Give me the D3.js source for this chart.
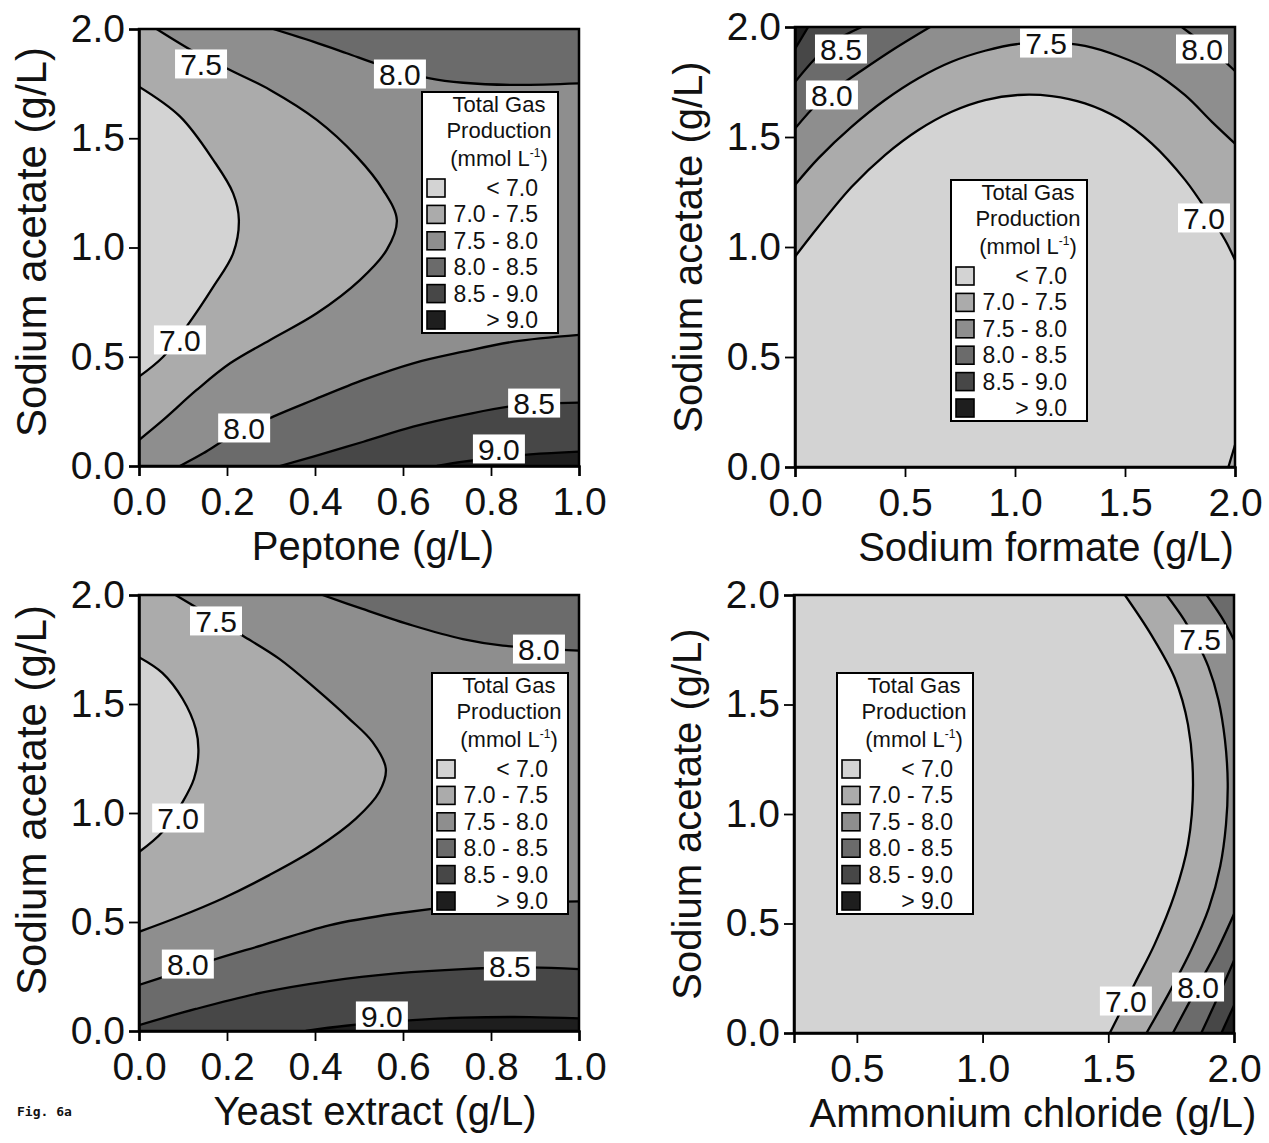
<!DOCTYPE html>
<html>
<head>
<meta charset="utf-8">
<script src="https://cdn.jsdelivr.net/npm/d3@7"></script>
<style>
  body { margin: 0; background: #fff; }
  svg text { font-family: "Liberation Sans", Arial, sans-serif; fill: #111; }
</style>
</head>
<body>
<svg id="fig" width="1269" height="1143"></svg>
<script>
// ---- data ----
const bandNames = ["< 7.0", "7.0 - 7.5", "7.5 - 8.0", "8.0 - 8.5", "8.5 - 9.0", "> 9.0"];
const levels = [7.0, 7.5, 8.0, 8.5, 9.0];
const yTicks = [0, 0.5, 1.0, 1.5, 2.0];
const xTicksPep = [0, 0.2, 0.4, 0.6, 0.8, 1.0];
const xTicksForm = [0, 0.5, 1.0, 1.5, 2.0];
const xTicksYeast = [0, 0.2, 0.4, 0.6, 0.8, 1.0];
const xTicksNH4 = [0.5, 1.0, 1.5, 2.0];

// contour lines, [x, sodium acetate]
// peptone
const pep70 = [[0,1.736],[0.093,1.60],[0.169,1.40],[0.214,1.248],[0.227,1.126],[0.214,0.973],[0.169,0.821],[0.108,0.638],[0.055,0.50],[0,0.409]];
const pep75 = [[0.04,2.0],[0.131,1.889],[0.207,1.812],[0.298,1.721],[0.404,1.584],[0.495,1.416],[0.555,1.263],[0.586,1.126],[0.563,0.989],[0.502,0.851],[0.404,0.699],[0.298,0.577],[0.207,0.47],[0.131,0.348],[0.055,0.211],[0,0.119]];
const pep80a = [[0.305,2.0],[0.396,1.942],[0.472,1.889],[0.548,1.835],[0.661,1.774],[0.737,1.754],[0.851,1.744],[1.0,1.751]];
const pep80b = [[0.093,0],[0.146,0.058],[0.207,0.134],[0.305,0.226],[0.396,0.302],[0.51,0.394],[0.623,0.47],[0.737,0.523],[0.851,0.569],[1.0,0.60]];
const pep85 = [[0.32,0],[0.396,0.043],[0.51,0.111],[0.623,0.18],[0.737,0.233],[0.851,0.275],[1.0,0.29]];
const pep90 = [[0.677,0],[0.737,0.02],[0.889,0.053],[1.0,0.066]];
// sodium formate
const form70a = [[0,0.956],[0.106,1.092],[0.258,1.274],[0.409,1.418],[0.561,1.532],[0.712,1.615],[0.864,1.668],[1.015,1.691],[1.167,1.686],[1.318,1.653],[1.47,1.585],[1.621,1.471],[1.773,1.305],[1.879,1.153],[1.955,1.032],[2.0,0.941]];
const form70b = [[1.97,0],[2.0,0.10]];
const form75 = [[0,1.282],[0.106,1.403],[0.258,1.547],[0.409,1.668],[0.561,1.767],[0.712,1.842],[0.864,1.892],[1.015,1.923],[1.167,1.93],[1.318,1.914],[1.47,1.868],[1.621,1.80],[1.773,1.69],[1.894,1.57],[2.0,1.47]];
const form80a = [[0,1.538],[0.1,1.65],[0.2,1.73],[0.3,1.80],[0.45,1.90],[0.614,2.0]];
const form80b = [[1.758,2.0],[1.9,1.89],[2.0,1.80]];
const form85 = [[0,1.75],[0.091,1.856],[0.174,1.932],[0.303,2.0]];
const form90 = [[0,1.90],[0.06,2.0]];
// yeast extract
const yea70 = [[0,1.715],[0.053,1.643],[0.099,1.524],[0.129,1.386],[0.135,1.279],[0.125,1.157],[0.099,1.05],[0.053,0.913],[0,0.821]];
const yea75 = [[0.083,2.0],[0.167,1.898],[0.235,1.814],[0.319,1.707],[0.402,1.569],[0.478,1.432],[0.531,1.325],[0.561,1.203],[0.546,1.096],[0.493,0.974],[0.402,0.837],[0.296,0.715],[0.19,0.608],[0.091,0.524],[0,0.455]];
const yea80a = [[0.417,2.0],[0.508,1.936],[0.622,1.86],[0.736,1.798],[0.827,1.768],[1.0,1.745]];
const yea80b = [[0,0.211],[0.068,0.256],[0.167,0.325],[0.281,0.394],[0.432,0.485],[0.584,0.539],[0.736,0.574],[0.888,0.589],[1.0,0.595]];
const yea85 = [[0,0.027],[0.129,0.101],[0.281,0.177],[0.432,0.229],[0.584,0.264],[0.736,0.284],[0.888,0.292],[1.0,0.284]];
const yea90 = [[0.379,0],[0.47,0.024],[0.622,0.05],[0.736,0.061],[0.888,0.064],[1.0,0.058]];
// ammonium chloride
const nh70 = [[1.566,2.0],[1.671,1.818],[1.764,1.621],[1.817,1.408],[1.837,1.135],[1.817,0.862],[1.764,0.634],[1.685,0.407],[1.605,0.225],[1.506,0]];
const nh75 = [[1.732,2.0],[1.80,1.89],[1.855,1.78],[1.898,1.673],[1.938,1.521],[1.964,1.338],[1.975,1.14],[1.968,0.95],[1.945,0.76],[1.90,0.57],[1.83,0.38],[1.745,0.19],[1.652,0]];
const nh80a = [[1.891,2.0],[1.95,1.90],[2.0,1.795]];
const nh80b = [[2.0,0.543],[1.93,0.37],[1.857,0.215],[1.757,0]];
const nh85 = [[2.0,0.331],[1.936,0.164],[1.87,0]];
const nh90 = [[2.0,0.126],[1.95,0]];

// which way round the plot edge the higher side lies
const pepContours = [
  { level: 7.0, pts: pep70, hi: "ccw" }, { level: 7.5, pts: pep75, hi: "ccw" },
  { level: 8.0, pts: pep80a, hi: "ccw" }, { level: 8.0, pts: pep80b, hi: "cw" },
  { level: 8.5, pts: pep85, hi: "cw" }, { level: 9.0, pts: pep90, hi: "cw" }
];
const formContours = [
  { level: 7.0, pts: form70a, hi: "ccw" }, { level: 7.0, pts: form70b, hi: "cw" },
  { level: 7.5, pts: form75, hi: "ccw" }, { level: 8.0, pts: form80a, hi: "ccw" },
  { level: 8.0, pts: form80b, hi: "ccw" }, { level: 8.5, pts: form85, hi: "ccw" },
  { level: 9.0, pts: form90, hi: "ccw" }
];
const yeaContours = [
  { level: 7.0, pts: yea70, hi: "ccw" }, { level: 7.5, pts: yea75, hi: "ccw" },
  { level: 8.0, pts: yea80a, hi: "ccw" }, { level: 8.0, pts: yea80b, hi: "cw" },
  { level: 8.5, pts: yea85, hi: "cw" }, { level: 9.0, pts: yea90, hi: "cw" }
];
const nhContours = [
  { level: 7.0, pts: nh70, hi: "ccw" }, { level: 7.5, pts: nh75, hi: "ccw" },
  { level: 8.0, pts: nh80a, hi: "ccw" }, { level: 8.0, pts: nh80b, hi: "ccw" },
  { level: 8.5, pts: nh85, hi: "ccw" }, { level: 9.0, pts: nh90, hi: "ccw" }
];

// contour labels
const pepLabels = [["7.5",0.141,1.84],["8.0",0.593,1.794],["7.0",0.093,0.577],["8.0",0.239,0.174],["8.5",0.898,0.288],["9.0",0.818,0.078]];
const formLabels = [["8.5",0.209,1.9],["7.5",1.141,1.927],["8.0",1.85,1.9],["8.0",0.168,1.691],["7.0",1.859,1.132]];
const yeaLabels = [["7.5",0.175,1.881],["8.0",0.909,1.752],["7.0",0.089,0.977],["8.0",0.111,0.307],["8.5",0.843,0.298],["9.0",0.552,0.069]];
const nhLabels = [["7.5",1.865,1.799],["7.0",1.57,0.146],["8.0",1.857,0.21]];

// ---- layout ----
const bandColors = ["#d3d3d3", "#ababab", "#8e8e8e", "#6b6b6b", "#474747", "#1e1e1e"];

const panels = [
  { left: 139, top: 29, w: 440, h: 437, xDomain: [0, 1], xTicks: xTicksPep, xTitle: "Peptone (g/L)",
    xTitleX: 234, yTitleY: 213, yTitleSize: 42, contours: pepContours, labels: pepLabels, legend: [283, 63] },
  { left: 795, top: 27, w: 440, h: 440, xDomain: [0, 2], xTicks: xTicksForm, xTitle: "Sodium formate (g/L)",
    xTitleX: 251, yTitleY: 220, yTitleSize: 40, contours: formContours, labels: formLabels, legend: [156, 153] },
  { left: 139, top: 595, w: 440, h: 436, xDomain: [0, 1], xTicks: xTicksYeast, xTitle: "Yeast extract (g/L)",
    xTitleX: 236, yTitleY: 205, yTitleSize: 42, contours: yeaContours, labels: yeaLabels, legend: [293, 78] },
  { left: 794, top: 595, w: 440, h: 438, xDomain: [0.25, 2], xTicks: xTicksNH4, xTitle: "Ammonium chloride (g/L)",
    xTitleX: 239, yTitleY: 219, yTitleSize: 40, contours: nhContours, labels: nhLabels, legend: [43, 78] }
];

const svg = d3.select("#fig");
const fmt = d3.format(".1f");

// position along the plot edge, clockwise from the top-left corner
function edgeT(p, w, h) {
  const [px, py] = p, e = 0.5;
  if (py <= e) return px;
  if (px >= w - e) return w + py;
  if (py >= h - e) return w + h + (w - px);
  return 2 * w + h + (h - py);
}

// corners to pass when closing a contour along the edge
function closure(pix, hi, w, h) {
  const P = 2 * (w + h);
  const corners = [[0, [0, 0]], [w, [w, 0]], [w + h, [w, h]], [2 * w + h, [0, h]]];
  const tA = edgeT(pix[0], w, h);
  const tB = edgeT(pix[pix.length - 1], w, h);
  const s = hi === "cw" ? 1 : -1;
  const span = (((s * (tA - tB)) % P) + P) % P;
  return corners
    .map(([t, p]) => ({ d: (((s * (t - tB)) % P) + P) % P, p }))
    .filter((c) => c.d > 0 && c.d < span)
    .sort((a, b) => a.d - b.d)
    .map((c) => c.p);
}

const curve = d3.line().curve(d3.curveCatmullRom.alpha(0.5));

panels.forEach((p, i) => {
  const x = d3.scaleLinear().domain(p.xDomain).range([0, p.w]);
  const y = d3.scaleLinear().domain([0, 2]).range([p.h, 0]);

  const g = svg.append("g").attr("transform", `translate(${p.left},${p.top})`);

  const clipId = "clip" + i;
  g.append("clipPath").attr("id", clipId)
    .append("rect").attr("width", p.w).attr("height", p.h);

  const plot = g.append("g").attr("clip-path", `url(#${clipId})`);

  plot.append("rect").attr("width", p.w).attr("height", p.h).attr("fill", bandColors[0]);

  const sorted = p.contours.slice().sort((a, b) => a.level - b.level);

  //filled bands, higher side of each level painted in turn
  sorted.forEach((c) => {
    const pix = c.pts.map((d) => [x(d[0]), y(d[1])]);
    const extra = closure(pix, c.hi, p.w, p.h);
    const d = curve(pix) + extra.map((q) => `L${q[0]},${q[1]}`).join("") + "Z";
    plot.append("path").attr("d", d)
      .attr("fill", bandColors[levels.indexOf(c.level) + 1]);
  });

  //contour lines
  sorted.forEach((c) => {
    plot.append("path")
      .attr("d", curve(c.pts.map((d) => [x(d[0]), y(d[1])])))
      .attr("fill", "none")
      .attr("stroke", "#000")
      .attr("stroke-width", 2.3);
  });

  //contour labels
  p.labels.forEach(([txt, lx, ly]) => {
    const lg = plot.append("g").attr("transform", `translate(${x(lx)},${y(ly)})`);
    lg.append("rect").attr("x", -26).attr("y", -14.5).attr("width", 52).attr("height", 29).attr("fill", "#fff");
    lg.append("text").attr("text-anchor", "middle").attr("dy", "0.36em")
      .style("font-size", "30px").text(txt);
  });

  //frame
  g.append("rect").attr("width", p.w).attr("height", p.h)
    .attr("fill", "none").attr("stroke", "#000").attr("stroke-width", 2.5);

  //axes
  const xAxis = d3.axisBottom(x).tickValues(p.xTicks).tickFormat(fmt)
    .tickSize(10).tickSizeOuter(10).tickPadding(11);
  const yAxis = d3.axisLeft(y).tickValues(yTicks).tickFormat(fmt)
    .tickSize(10).tickSizeOuter(10).tickPadding(4);

  const xg = g.append("g").attr("transform", `translate(0,${p.h})`).call(xAxis);
  const yg = g.append("g").call(yAxis);
  [xg, yg].forEach((ag) => {
    ag.select(".domain").attr("stroke-width", 2.5);
    ag.selectAll(".tick line").attr("stroke-width", 1.8);
    ag.selectAll("text").style("font-size", "39px").attr("fill", "#111");
  });

  //axis titles
  g.append("text").attr("x", p.xTitleX).attr("y", p.h + 94)
    .attr("text-anchor", "middle").style("font-size", "40px").text(p.xTitle);
  g.append("text")
    .attr("transform", `translate(-93,${p.yTitleY}) rotate(-90)`)
    .attr("text-anchor", "middle").style("font-size", p.yTitleSize + "px")
    .text("Sodium acetate (g/L)");

  //legend
  const lg = g.append("g").attr("transform", `translate(${p.legend[0]},${p.legend[1]})`);
  lg.append("rect").attr("width", 136).attr("height", 241)
    .attr("fill", "#fff").attr("stroke", "#000").attr("stroke-width", 2);
  const title = lg.append("text").attr("text-anchor", "middle").style("font-size", "22px");
  title.append("tspan").attr("x", 77).attr("y", 20).text("Total Gas");
  title.append("tspan").attr("x", 77).attr("y", 46).text("Production");
  const t3 = lg.append("text").attr("x", 77).attr("y", 74).attr("text-anchor", "middle").style("font-size", "22px");
  t3.append("tspan").text("(mmol L");
  t3.append("tspan").attr("dy", -9).style("font-size", "12px").text("-1");
  t3.append("tspan").attr("dy", 9).text(")");

  bandNames.forEach((name, k) => {
    const ry = 87 + k * 26.4;
    lg.append("rect").attr("x", 5).attr("y", ry).attr("width", 18).attr("height", 18)
      .attr("fill", bandColors[k]).attr("stroke", "#000").attr("stroke-width", 1.6);
    lg.append("text").attr("x", 116).attr("y", ry + 17).attr("text-anchor", "end")
      .style("font-size", "23px").text(name);
  });
});

svg.append("text").attr("x", 17).attr("y", 1116)
  .style("font-family", "'DejaVu Sans Mono', monospace").style("font-weight", "bold")
  .style("font-size", "13px").text("Fig. 6a");
</script>
</body>
</html>
